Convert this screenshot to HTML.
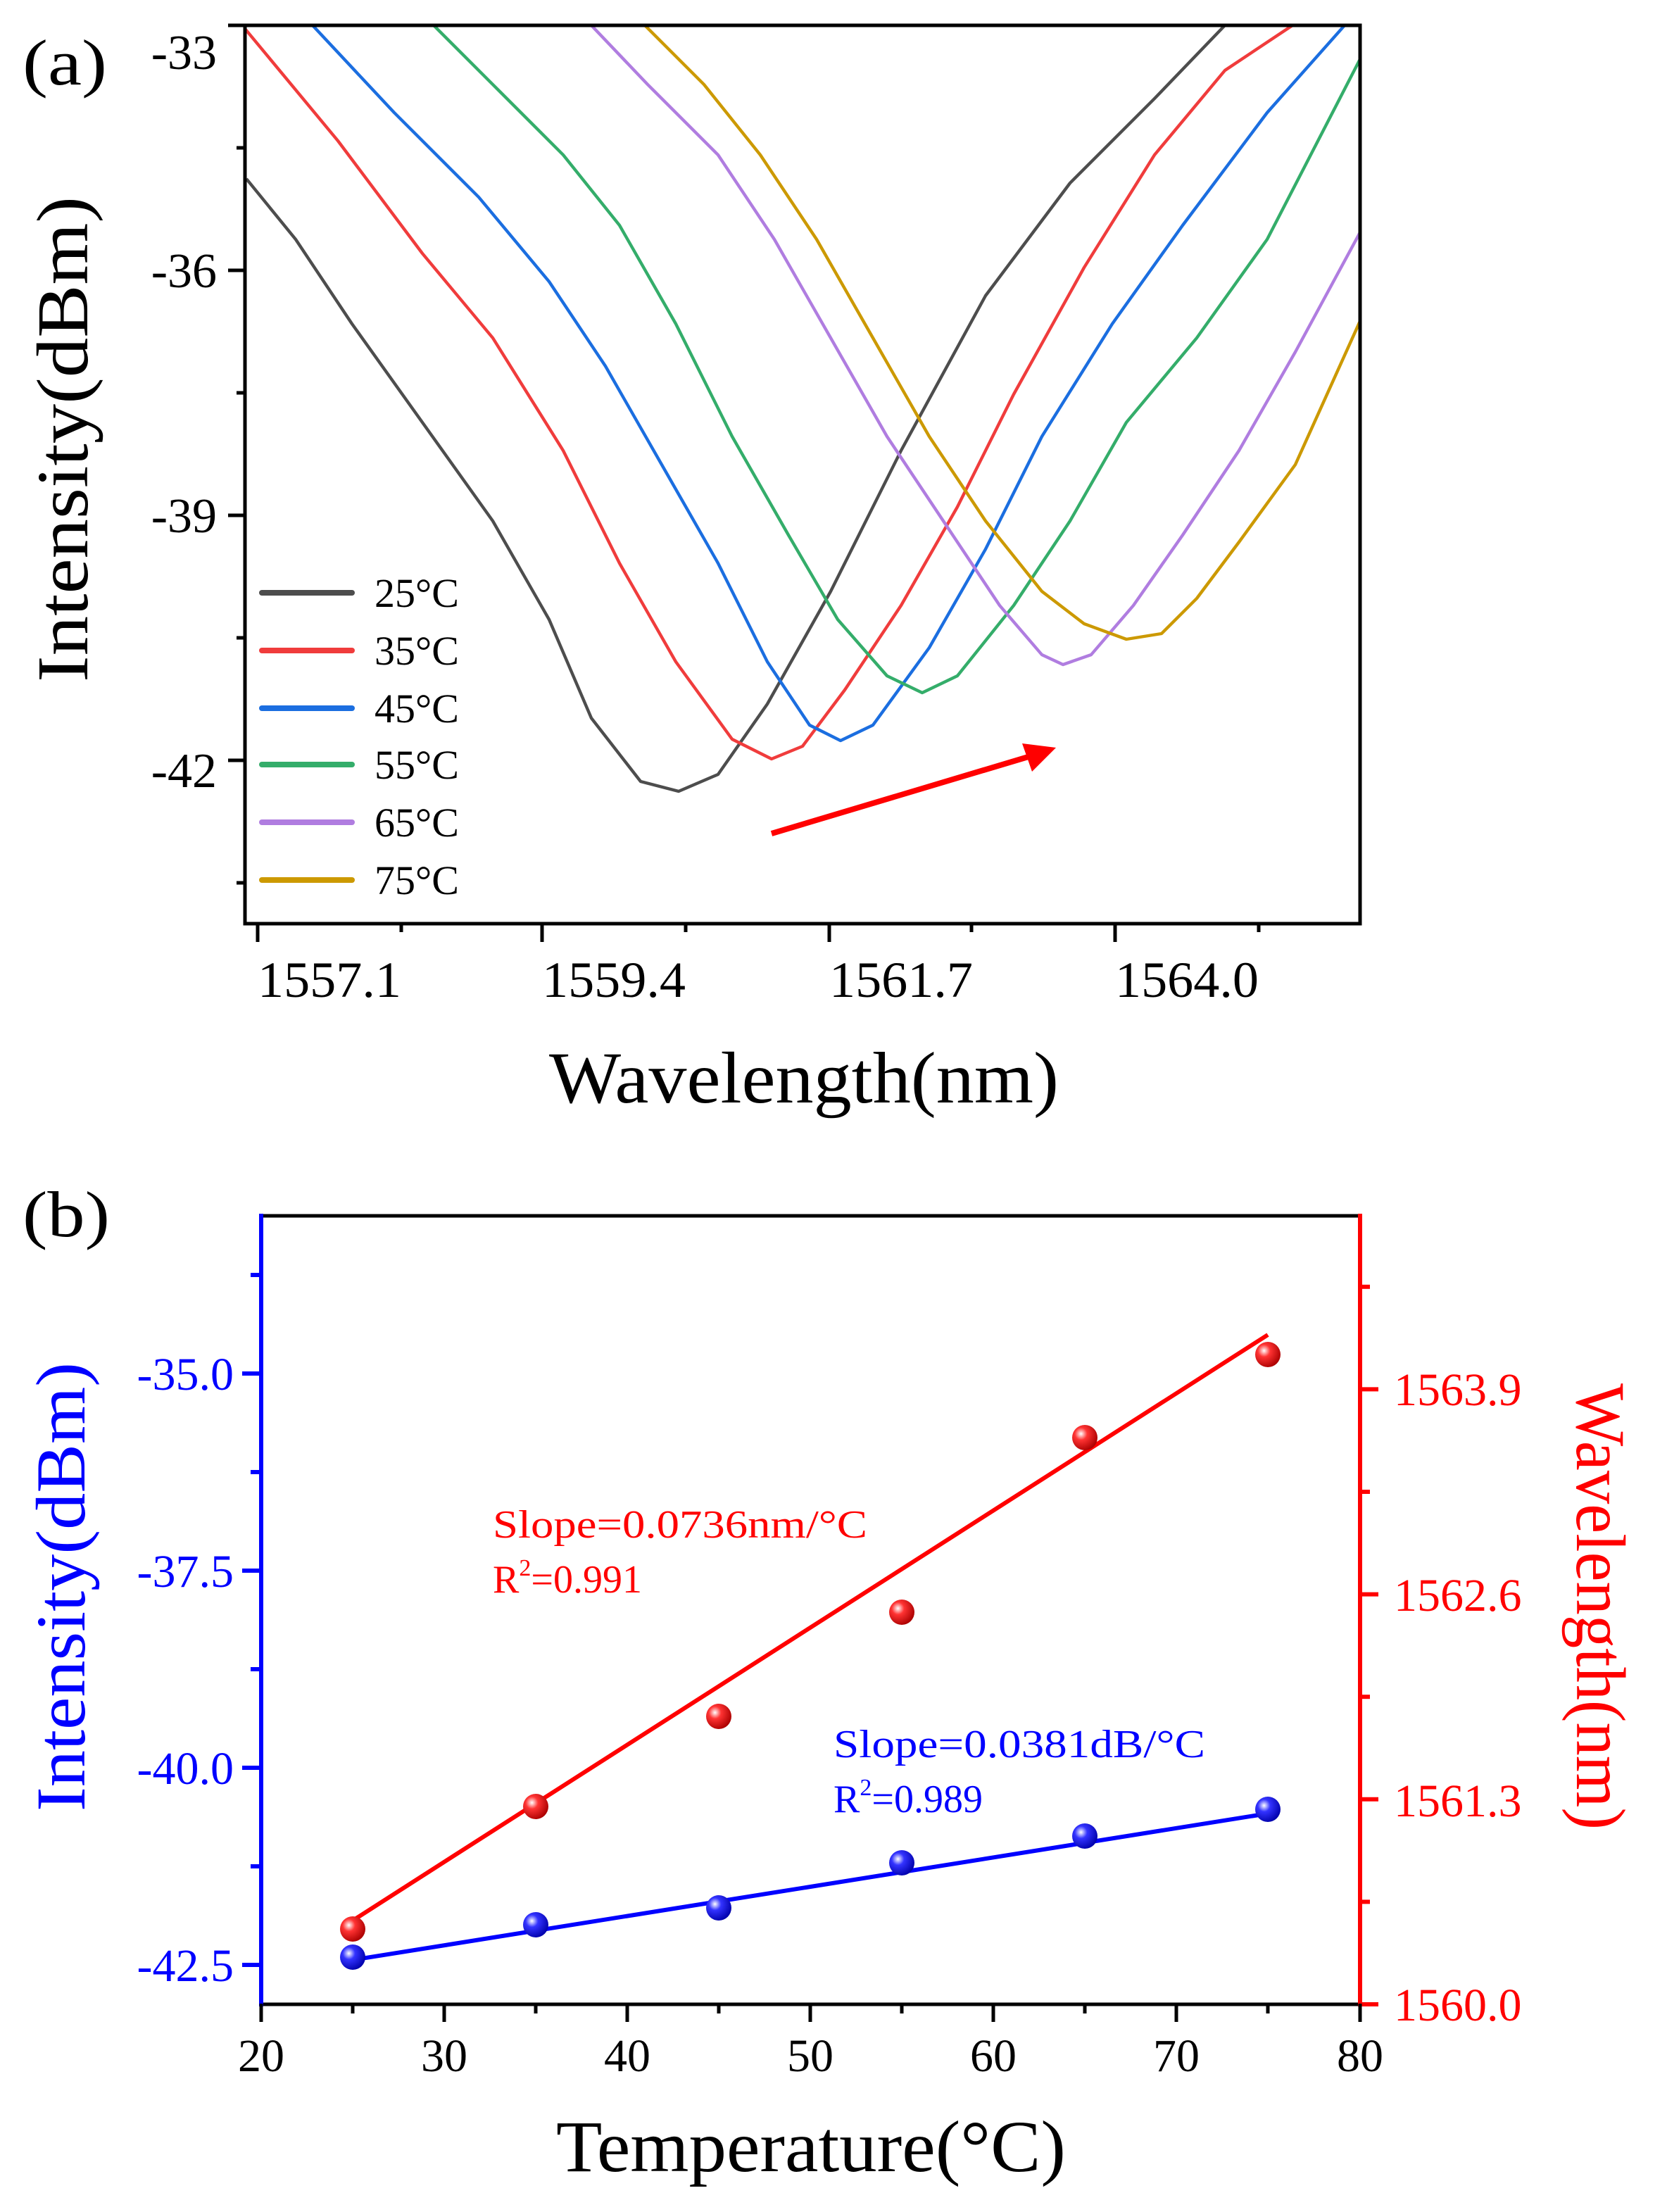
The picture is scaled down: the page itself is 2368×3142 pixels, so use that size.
<!DOCTYPE html>
<html><head><meta charset="utf-8"><style>html,body{margin:0;padding:0;background:#fff}svg{display:block}</style></head>
<body>
<svg width="2368" height="3142" viewBox="0 0 1184 1571" xmlns="http://www.w3.org/2000/svg" font-family="'Liberation Serif', serif">
<defs><clipPath id="ca"><rect x="174" y="18" width="792" height="638"/></clipPath></defs>
<rect width="1184" height="1571" fill="#fff"/>
<!-- (a) -->
<text x="16" y="60" font-size="46" textLength="60" lengthAdjust="spacingAndGlyphs">(a)</text>
<g clip-path="url(#ca)" fill="none" stroke-width="2.2" stroke-linejoin="round">
<polyline stroke="#4d4d4d" points="175,127 210,170 250,230 300,300 350,370 390,440 420,510 455,555 482,562 510,550 545,500 590,420 640,320 700,210 760,130 820,70 870,18 880,8"/>
<polyline stroke="#f03c3c" points="172,18 240,100 300,180 350,240 400,320 440,400 480,470 520,525 548,539 570,530 600,490 640,430 680,360 720,280 770,190 820,110 870,50 918,18 930,8"/>
<polyline stroke="#1b6ee0" points="222,18 280,80 340,140 390,200 430,260 470,330 510,400 545,470 575,515 597,526 620,515 660,460 700,390 740,310 790,230 840,160 900,80 955,18 965,6"/>
<polyline stroke="#34ad6a" points="308,18 350,60 400,110 440,160 480,230 520,310 560,380 595,440 630,480 655,492 680,480 720,430 760,370 800,300 850,240 900,170 966,42"/>
<polyline stroke="#b07de0" points="420,18 460,60 510,110 550,170 590,240 630,310 670,370 710,430 740,465 755,472 775,465 805,430 840,380 880,320 920,250 966,165"/>
<polyline stroke="#cc9900" points="458,18 500,60 540,110 580,170 620,240 660,310 700,370 740,420 770,443 800,454 825,450 850,425 880,385 920,330 966,228"/>
</g>
<rect x="174" y="18" width="792" height="638" fill="none" stroke="#000" stroke-width="2.5"/>
<g stroke="#000" stroke-width="2.5">
<line x1="162" y1="18" x2="174" y2="18"/><line x1="162" y1="192" x2="174" y2="192"/><line x1="162" y1="366" x2="174" y2="366"/><line x1="162" y1="540" x2="174" y2="540"/>
<line x1="168" y1="105" x2="174" y2="105"/><line x1="168" y1="279" x2="174" y2="279"/><line x1="168" y1="453" x2="174" y2="453"/><line x1="168" y1="627" x2="174" y2="627"/>
<line x1="183" y1="656" x2="183" y2="669"/><line x1="385" y1="656" x2="385" y2="669"/><line x1="589" y1="656" x2="589" y2="669"/><line x1="792" y1="656" x2="792" y2="669"/>
<line x1="285" y1="656" x2="285" y2="662"/><line x1="487" y1="656" x2="487" y2="662"/><line x1="690" y1="656" x2="690" y2="662"/><line x1="894" y1="656" x2="894" y2="662"/>
</g>
<g font-size="35" text-anchor="end">
<text x="154" y="49">-33</text><text x="154" y="204">-36</text><text x="154" y="378">-39</text><text x="154" y="559">-42</text>
</g>
<g font-size="36" text-anchor="middle">
<text x="234" y="708" textLength="102" lengthAdjust="spacingAndGlyphs">1557.1</text><text x="436" y="708" textLength="102" lengthAdjust="spacingAndGlyphs">1559.4</text><text x="640" y="708" textLength="102" lengthAdjust="spacingAndGlyphs">1561.7</text><text x="843" y="708" textLength="102" lengthAdjust="spacingAndGlyphs">1564.0</text>
</g>
<text x="571" y="783" font-size="52" text-anchor="middle" textLength="362" lengthAdjust="spacingAndGlyphs">Wavelength(nm)</text>
<text transform="translate(62,312) rotate(-90)" font-size="52" text-anchor="middle" textLength="345" lengthAdjust="spacingAndGlyphs">Intensity(dBm)</text>
<g stroke-width="4" stroke-linecap="round">
<line x1="186" y1="421" x2="250" y2="421" stroke="#4d4d4d"/><line x1="186" y1="462" x2="250" y2="462" stroke="#f03c3c"/>
<line x1="186" y1="503" x2="250" y2="503" stroke="#1b6ee0"/><line x1="186" y1="543" x2="250" y2="543" stroke="#34ad6a"/>
<line x1="186" y1="584" x2="250" y2="584" stroke="#b07de0"/><line x1="186" y1="625" x2="250" y2="625" stroke="#cc9900"/>
</g>
<g font-size="29">
<text x="266" y="431">25°C</text><text x="266" y="472">35°C</text><text x="266" y="513">45°C</text><text x="266" y="553">55°C</text><text x="266" y="594">65°C</text><text x="266" y="635">75°C</text>
</g>
<line x1="548" y1="592" x2="732" y2="537" stroke="#f00" stroke-width="4"/>
<polygon points="750,531 726,528 733,548" fill="#f00"/>
<!-- (b) -->
<text x="16" y="878" font-size="46" textLength="62" lengthAdjust="spacingAndGlyphs">(b)</text>
<line x1="185.5" y1="863.5" x2="966" y2="863.5" stroke="#000" stroke-width="2.5"/>
<line x1="185.5" y1="1423.5" x2="966" y2="1423.5" stroke="#000" stroke-width="2.5"/>
<line x1="185.5" y1="862" x2="185.5" y2="1425" stroke="#00f" stroke-width="3"/>
<line x1="966" y1="862" x2="966" y2="1425" stroke="#f00" stroke-width="3"/>
<g stroke="#00f" stroke-width="3">
<line x1="172" y1="975.5" x2="185" y2="975.5"/><line x1="172" y1="1115.5" x2="185" y2="1115.5"/><line x1="172" y1="1255.5" x2="185" y2="1255.5"/><line x1="172" y1="1395.5" x2="185" y2="1395.5"/>
<line x1="178" y1="905.5" x2="185" y2="905.5"/><line x1="178" y1="1045.5" x2="185" y2="1045.5"/><line x1="178" y1="1185.5" x2="185" y2="1185.5"/><line x1="178" y1="1325.5" x2="185" y2="1325.5"/>
</g>
<g font-size="33" fill="#00f" text-anchor="end">
<text x="166" y="987">-35.0</text><text x="166" y="1127">-37.5</text><text x="166" y="1267">-40.0</text><text x="166" y="1407">-42.5</text>
</g>
<g stroke="#f00" stroke-width="3">
<line x1="966" y1="1423.5" x2="979" y2="1423.5"/><line x1="966" y1="1277.9" x2="979" y2="1277.9"/><line x1="966" y1="1132.3" x2="979" y2="1132.3"/><line x1="966" y1="986.7" x2="979" y2="986.7"/>
<line x1="966" y1="1350.7" x2="973" y2="1350.7"/><line x1="966" y1="1205.1" x2="973" y2="1205.1"/><line x1="966" y1="1059.5" x2="973" y2="1059.5"/><line x1="966" y1="913.9" x2="973" y2="913.9"/>
</g>
<g font-size="33" fill="#f00">
<text x="990" y="1435">1560.0</text><text x="990" y="1290">1561.3</text><text x="990" y="1144">1562.6</text><text x="990" y="998">1563.9</text>
</g>
<g stroke="#000" stroke-width="2.5">
<line x1="185.5" y1="1423" x2="185.5" y2="1436"/><line x1="315.5" y1="1423" x2="315.5" y2="1436"/><line x1="445.5" y1="1423" x2="445.5" y2="1436"/><line x1="575.5" y1="1423" x2="575.5" y2="1436"/><line x1="705.5" y1="1423" x2="705.5" y2="1436"/><line x1="835.5" y1="1423" x2="835.5" y2="1436"/><line x1="966" y1="1423" x2="966" y2="1436"/>
<line x1="250.5" y1="1423" x2="250.5" y2="1430"/><line x1="380.5" y1="1423" x2="380.5" y2="1430"/><line x1="510.5" y1="1423" x2="510.5" y2="1430"/><line x1="640.5" y1="1423" x2="640.5" y2="1430"/><line x1="770.5" y1="1423" x2="770.5" y2="1430"/><line x1="900.5" y1="1423" x2="900.5" y2="1430"/>
</g>
<g font-size="33" text-anchor="middle">
<text x="185.5" y="1471">20</text><text x="315.5" y="1471">30</text><text x="445.5" y="1471">40</text><text x="575.5" y="1471">50</text><text x="705.5" y="1471">60</text><text x="835.5" y="1471">70</text><text x="966" y="1471">80</text>
</g>
<text x="576" y="1542" font-size="52" text-anchor="middle" textLength="362" lengthAdjust="spacingAndGlyphs">Temperature(°C)</text>
<text transform="translate(60,1127) rotate(-90)" font-size="50" fill="#00f" text-anchor="middle" textLength="319" lengthAdjust="spacingAndGlyphs">Intensity(dBm)</text>
<text transform="translate(1120,1141) rotate(90)" font-size="50" fill="#f00" text-anchor="middle" textLength="317" lengthAdjust="spacingAndGlyphs">Wavelength(nm)</text>
<line x1="250.5" y1="1364" x2="900.5" y2="948" stroke="#f00" stroke-width="3"/>
<line x1="250.5" y1="1392" x2="900.5" y2="1288" stroke="#00f" stroke-width="3"/>
<defs>
<radialGradient id="gr" cx="0.35" cy="0.35" r="0.7"><stop offset="0" stop-color="#fff"/><stop offset="0.35" stop-color="#f33"/><stop offset="1" stop-color="#a00"/></radialGradient>
<radialGradient id="gb" cx="0.35" cy="0.35" r="0.7"><stop offset="0" stop-color="#fff"/><stop offset="0.35" stop-color="#33f"/><stop offset="1" stop-color="#00a"/></radialGradient>
</defs>
<g fill="url(#gr)">
<circle cx="250.5" cy="1370" r="9"/><circle cx="380.5" cy="1283" r="9"/><circle cx="510.5" cy="1219" r="9"/><circle cx="640.5" cy="1145" r="9"/><circle cx="770.5" cy="1021" r="9"/><circle cx="900.5" cy="962" r="9"/>
</g>
<g fill="url(#gb)">
<circle cx="250.5" cy="1390" r="9"/><circle cx="380.5" cy="1367" r="9"/><circle cx="510.5" cy="1355" r="9"/><circle cx="640.5" cy="1323" r="9"/><circle cx="770.5" cy="1304" r="9"/><circle cx="900.5" cy="1285" r="9"/>
</g>
<g font-size="28" fill="#f00">
<text x="350" y="1092" textLength="266" lengthAdjust="spacingAndGlyphs">Slope=0.0736nm/°C</text>
<text x="350" y="1131">R<tspan font-size="17" dy="-12">2</tspan><tspan dy="12">=0.991</tspan></text>
</g>
<g font-size="28" fill="#00f">
<text x="592" y="1248" textLength="264" lengthAdjust="spacingAndGlyphs">Slope=0.0381dB/°C</text>
<text x="592" y="1287">R<tspan font-size="17" dy="-12">2</tspan><tspan dy="12">=0.989</tspan></text>
</g>
</svg>
</body></html>
